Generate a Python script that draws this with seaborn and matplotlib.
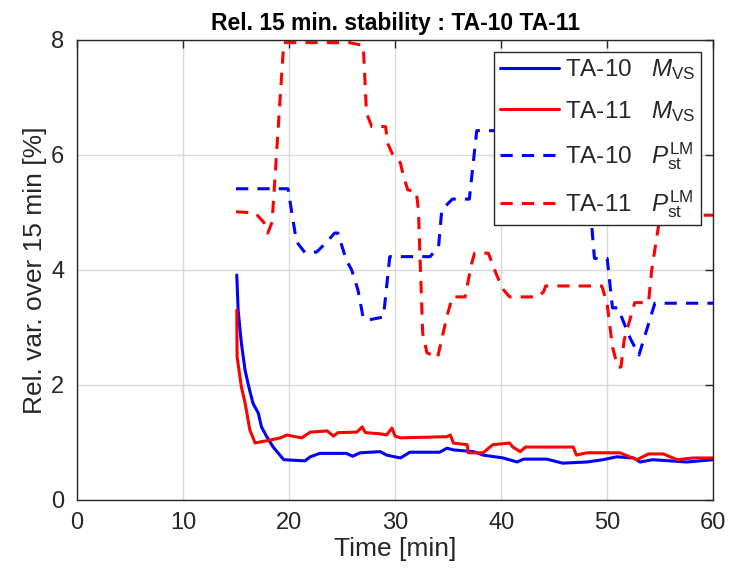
import matplotlib
matplotlib.use("Agg")
import matplotlib.pyplot as plt
import seaborn as sns
import pandas as pd
from matplotlib.lines import Line2D

# ---- data ----
t_m10 = [15.07, 15.2, 15.5, 15.85, 16.2, 16.6, 17.1, 17.4, 17.9, 18.5, 19.0, 19.5, 21.5, 22.0, 22.9,
         25.4, 26.0, 26.7, 28.6, 29.2, 30.5, 31.4, 34.2, 34.9, 35.5, 37.4, 38.3, 40.2, 41.5, 42.1,
         44.3, 45.8, 48.1, 49.6, 50.9, 52.5, 53.1, 54.3, 57.5, 60.0]
v_m10 = [3.91, 3.30, 2.73, 2.26, 1.97, 1.68, 1.51, 1.27, 1.10, 0.92, 0.81, 0.70, 0.68, 0.75, 0.81,
         0.81, 0.76, 0.82, 0.84, 0.78, 0.73, 0.83, 0.83, 0.90, 0.87, 0.84, 0.78, 0.73, 0.66, 0.71,
         0.71, 0.64, 0.66, 0.70, 0.75, 0.73, 0.66, 0.70, 0.66, 0.70]

t_m11 = [15.07, 15.1, 15.5, 15.85, 16.3, 16.8, 17.3, 18.2, 19.2, 19.8, 20.6, 21.2, 22.0, 23.6, 24.2,
         24.6, 26.4, 26.9, 27.2, 28.6, 29.2, 29.7, 30.0, 30.5, 34.9, 35.2, 35.5, 36.8, 36.9, 38.3,
         39.2, 40.8, 41.1, 41.8, 42.3, 46.8, 47.1, 48.1, 51.2, 52.8, 53.9, 55.3, 56.6, 58.1, 60.0]
v_m11 = [3.30, 2.49, 1.97, 1.69, 1.22, 0.99, 1.01, 1.04, 1.08, 1.13, 1.10, 1.08, 1.18, 1.20, 1.11,
         1.17, 1.18, 1.27, 1.17, 1.15, 1.13, 1.25, 1.11, 1.08, 1.10, 1.13, 0.99, 0.96, 0.82, 0.82,
         0.96, 0.99, 0.92, 0.84, 0.92, 0.92, 0.78, 0.82, 0.82, 0.70, 0.80, 0.80, 0.70, 0.73, 0.73]

t_p10 = [15.0, 19.9, 20.1, 20.7, 21.5, 22.6, 23.6, 24.3, 24.6, 25.4, 25.9, 26.5, 27.0, 27.5, 28.9,
         29.3, 29.5, 33.3, 34.1, 34.4, 35.4, 37.0, 37.7, 47.8, 48.8, 50.0, 50.5, 51.0, 52.2, 53.0,
         54.5, 60.0]
v_p10 = [5.41, 5.41, 5.18, 4.49, 4.30, 4.31, 4.49, 4.64, 4.64, 4.17, 4.00, 3.65, 3.16, 3.13, 3.18,
         3.88, 4.23, 4.23, 4.40, 5.04, 5.23, 5.23, 6.42, 6.42, 4.20, 4.20, 3.34, 3.34, 2.80, 2.52,
         3.42, 3.42]

t_p11 = [15.0, 16.8, 17.6, 18.0, 18.4, 19.5, 25.7, 27.0, 27.3, 27.8, 29.1, 29.3, 29.7, 30.5, 30.8,
         31.2, 32.0, 32.2, 32.6, 33.0, 34.0, 34.9, 35.4, 36.6, 37.2, 37.5, 38.8, 39.6, 40.2, 40.8,
         43.5, 44.0, 44.2, 49.5, 50.0, 50.5, 51.0, 51.3, 51.6, 52.6, 53.9, 54.2, 55.0, 60.0]
v_p11 = [5.01, 4.99, 4.83, 4.64, 4.83, 7.95, 7.95, 7.90, 6.73, 6.49, 6.49, 6.20, 6.03, 5.86, 5.62,
         5.39, 5.36, 5.04, 2.90, 2.56, 2.47, 3.20, 3.53, 3.53, 4.10, 4.29, 4.29, 3.90, 3.66, 3.53,
         3.53, 3.62, 3.72, 3.72, 3.40, 2.66, 2.31, 2.31, 2.78, 3.43, 3.43, 4.00, 4.95, 4.95]

labels = [r"TA-10   $M_{\mathrm{VS}}$", r"TA-11   $M_{\mathrm{VS}}$",
          r"TA-10   $P_{\mathrm{st}}^{\mathrm{LM}}$", r"TA-11   $P_{\mathrm{st}}^{\mathrm{LM}}$"]
title = "Rel. 15 min. stability : TA-10 TA-11"
xlabel = "Time [min]"
ylabel = "Rel. var. over 15 min [%]"
xticks = [0, 10, 20, 30, 40, 50, 60]
yticks = [0, 2, 4, 6, 8]

# ---- style ----
sns.set_theme(style="white")
plt.rcParams['font.family'] = ['Liberation Sans', 'DejaVu Sans']
plt.rcParams['mathtext.fontset'] = 'custom'
plt.rcParams['mathtext.rm'] = 'Liberation Sans'
plt.rcParams['mathtext.it'] = 'Liberation Sans:italic'
plt.rcParams['mathtext.bf'] = 'Liberation Sans:bold'

fig = plt.figure(figsize=(7.33, 5.76), dpi=100)
ax = fig.add_axes([0.105, 0.132, 0.868, 0.799])

series = [(t_m10, v_m10, "#0000ff", "-"), (t_m11, v_m11, "#ff0000", "-"),
          (t_p10, v_p10, "#0000ff", "--"), (t_p11, v_p11, "#ff0000", "--")]
lw = 2.2
for (tt, vv, c, ls), lab in zip(series, labels):
    df = pd.DataFrame({"t": tt, "v": vv})
    sns.lineplot(data=df, x="t", y="v", ax=ax, color=c, linewidth=lw, sort=False,
                 estimator=None, linestyle=ls, legend=False)
    if ls == "--":
        ax.lines[-1].set_dashes((4, 3))

ax.set_xlim(0, 60)
ax.set_ylim(0, 8)
ax.set_xticks(xticks)
ax.set_yticks(yticks)
ax.grid(True, color="#d9d9d9", linewidth=1.0)
ax.tick_params(direction="in", length=6, width=1, colors="#262626", labelsize=17,
               top=True, right=True, labelcolor="#262626", pad=9)
for s in ax.spines.values():
    s.set_color("#262626")
    s.set_linewidth(1.0)
ax.set_xlabel(xlabel, fontsize=19, color="#262626", labelpad=2)
ax.set_ylabel(ylabel, fontsize=19, color="#262626", labelpad=3)
ax.set_title(title, fontsize=16.5, fontweight="bold", color="black", pad=7)

handles = []
for (_, _, c, ls) in series:
    h = Line2D([0], [0], color=c, lw=lw, linestyle=ls)
    if ls == "--":
        h.set_dashes((4, 3))
    handles.append(h)
leg = ax.legend(handles, labels, loc="upper right", fontsize=17.5, frameon=True, fancybox=False,
                edgecolor="#262626", framealpha=1.0, handlelength=2.45, borderaxespad=0.5,
                labelspacing=0.68, borderpad=0.22, handletextpad=0.25)
leg.get_frame().set_linewidth(1.0)

fig.savefig("out.png", dpi=100)
